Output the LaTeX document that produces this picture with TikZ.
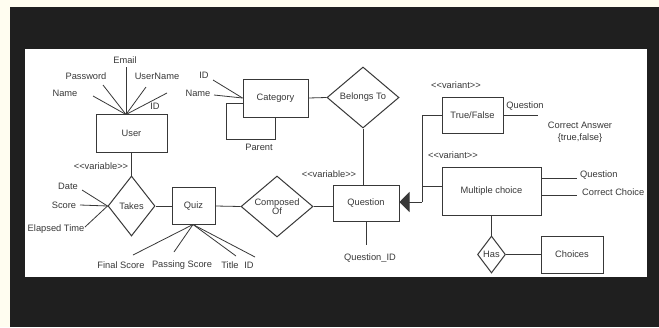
\documentclass[tikz,border=0pt]{standalone}
\usepackage{fontspec}
\setmainfont{Liberation Sans}
\usetikzlibrary{arrows.meta,shapes.geometric}
\definecolor{cream}{HTML}{FFFDF0}
\definecolor{darkbg}{HTML}{1F1F1F}
\definecolor{ink}{HTML}{383838}
\tikzset{
  every node/.style={font=\fontsize{9.3}{10.5}\selectfont, text=ink, inner sep=0pt},
  ent/.style={draw=ink, line width=1pt, rectangle, fill=white},
  rel/.style={draw=ink, line width=1pt, diamond, fill=white},
  conn/.style={draw=ink, line width=0.8pt},
  attr/.style={align=center}
}
\begin{document}
\begin{tikzpicture}[x=1pt,y=-1pt]
\useasboundingbox (0,0) rectangle (659,327);
% backgrounds
\fill[cream] (0,0) rectangle (659,327);
\fill[darkbg] (10,7) rectangle (659,327);
\fill[white] (25,49) rectangle (647,277);

% entities
\node[ent, minimum width=71pt, minimum height=38pt] (user) at (131.5,133) {User};
\node[ent, minimum width=65pt, minimum height=38pt] (cat) at (275.5,98) {Category};
\node[ent, minimum width=43pt, minimum height=37pt] (quiz) at (193.5,206) {Quiz};
\node[ent, minimum width=66pt, minimum height=36pt] (quest) at (366,203) {Question};
\node[ent, minimum width=61pt, minimum height=36pt] (tf) at (472.5,115) {True/False};
\node[ent, minimum width=99pt, minimum height=48pt] (mc) at (491.5,191) {Multiple choice};
\node[ent, minimum width=62pt, minimum height=37pt] (choices) at (572,254.5) {Choices};

% relationships
\node[rel, minimum width=47pt, minimum height=60pt] (takes) at (131.5,206) {};
\node (takesT) at (takes) {Takes};
\node[rel, minimum width=72pt, minimum height=61pt] (comp) at (277,206.5) {};
\node[attr] (compT) at (comp) {Composed\\[-1pt]Of};
\node[rel, minimum width=72pt, minimum height=61pt] (bel) at (363,97.5) {};
\node (belT) at (bel) {Belongs To};
\node[rel, minimum width=28pt, minimum height=37pt] (has) at (491.5,254.5) {};
\node (hasT) at (has) {Has};

% relationship connectors
\draw[conn] (user.south) -- (takes.north);
\draw[conn] (takes.east) -- (quiz.west);
\draw[conn] (quiz.east) -- (comp.west);
\draw[conn] (comp.east) -- (comp.east -| quest.west);
\draw[conn] (cat.east) -- (bel.west);
\draw[conn] (bel.south) -- (bel.south |- quest.north);
\draw[conn] (mc.south) -- (has.north);
\draw[conn] (has.east) -- (choices.west);

% category self loop
\coordinate (loopc) at (226,139);
\draw[conn] ([yshift=-5pt]cat.west) -| (loopc) -| (cat.south);
\node (parent) at (259,147) {Parent};

% generalisation
\coordinate (gen) at (422,202);
\coordinate (genmc) at (422,186);
\draw[conn] (tf.west) -| (gen);
\draw[conn] (mc.west |- genmc) -- (genmc);
\draw[conn, -{Triangle[length=10pt,width=20pt]}, fill=black] (gen) -- (gen -| quest.east);

% stereotype labels
\node (var1) at (101,166) {<{}<variable>{}>};
\node (var2) at (329,174) {<{}<variable>{}>};
\node (vt1) at (456,85) {<{}<variant>{}>};
\node (vt2) at (453,155) {<{}<variant>{}>};

% user attributes
\coordinate (uc) at (126,114.5);
\node (uEmail) at (125,60) {Email};
\node (uPass) at (86,76) {Password};
\node (uName) at (65,93) {Name};
\node (uUser) at (157,76) {UserName};
\node (uID) at (155,106) {ID};
\coordinate (uEmailE) at (126,67);
\coordinate (uPassE) at (103,85);
\coordinate (uNameE) at (93,96);
\coordinate (uUserE) at (146,87);
\coordinate (uIDE) at (167,93);
\foreach \e in {uEmailE,uPassE,uNameE,uUserE,uIDE} \draw[conn] (\e) -- (uc);

% category attributes
\node (cID) at (204,75) {ID};
\node (cName) at (198,93) {Name};
\coordinate (cIDE) at (213,80);
\coordinate (cNameE) at (214,95);
\draw[conn] (cIDE) -- (cat.west);
\draw[conn] (cNameE) -- (cat.west);

% takes attributes
\node (tDate) at (68,186) {Date};
\node (tScore) at (64,205) {Score};
\node (tElap) at (56,229) {Elapsed Time};
\coordinate (tDateE) at (82,190);
\coordinate (tScoreE) at (80,205);
\coordinate (tElapE) at (85,227);
\foreach \e in {tDateE,tScoreE,tElapE} \draw[conn] (\e) -- (takes.west);

% quiz attributes
\node (qFinal) at (121,265) {Final Score};
\node (qPass) at (182,265) {Passing Score};
\node (qTitle) at (230,265) {Title};
\node (qID) at (249,265) {ID};
\coordinate (qc) at (193,224.5);
\coordinate (qFinalE) at (133,255);
\coordinate (qPassE) at (174,252);
\coordinate (qTitleE) at (236,256);
\coordinate (qIDE) at (255,257);
\foreach \e in {qFinalE,qPassE,qTitleE,qIDE} \draw[conn] (\e) -- (qc);

% question attribute
\coordinate (qidE) at (366,245);
\draw[conn] (quest.south) -- (qidE);
\node (qidT) at (370,258) {Question\_ID};

% true/false attributes
\coordinate (tfQE) at (538,115);
\draw[conn] (tf.east) -- (tfQE);
\node (tfQ) at (525,106.5) {Question};
\node[attr] (tfCA) at (580,132) {Correct Answer\\[1pt]\{true,false\}};

% multiple choice attributes
\coordinate (mcQS) at (541,178);
\coordinate (mcQE) at (577,178);
\coordinate (mcCS) at (541,195);
\coordinate (mcCE) at (577,195);
\draw[conn] (mcQS) -- (mcQE);
\draw[conn] (mcCS) -- (mcCE);
\node[anchor=west] (mcQ) at (580,175) {Question};
\node[anchor=west] (mcC) at (582,192) {Correct Choice};
\end{tikzpicture}
\end{document}
